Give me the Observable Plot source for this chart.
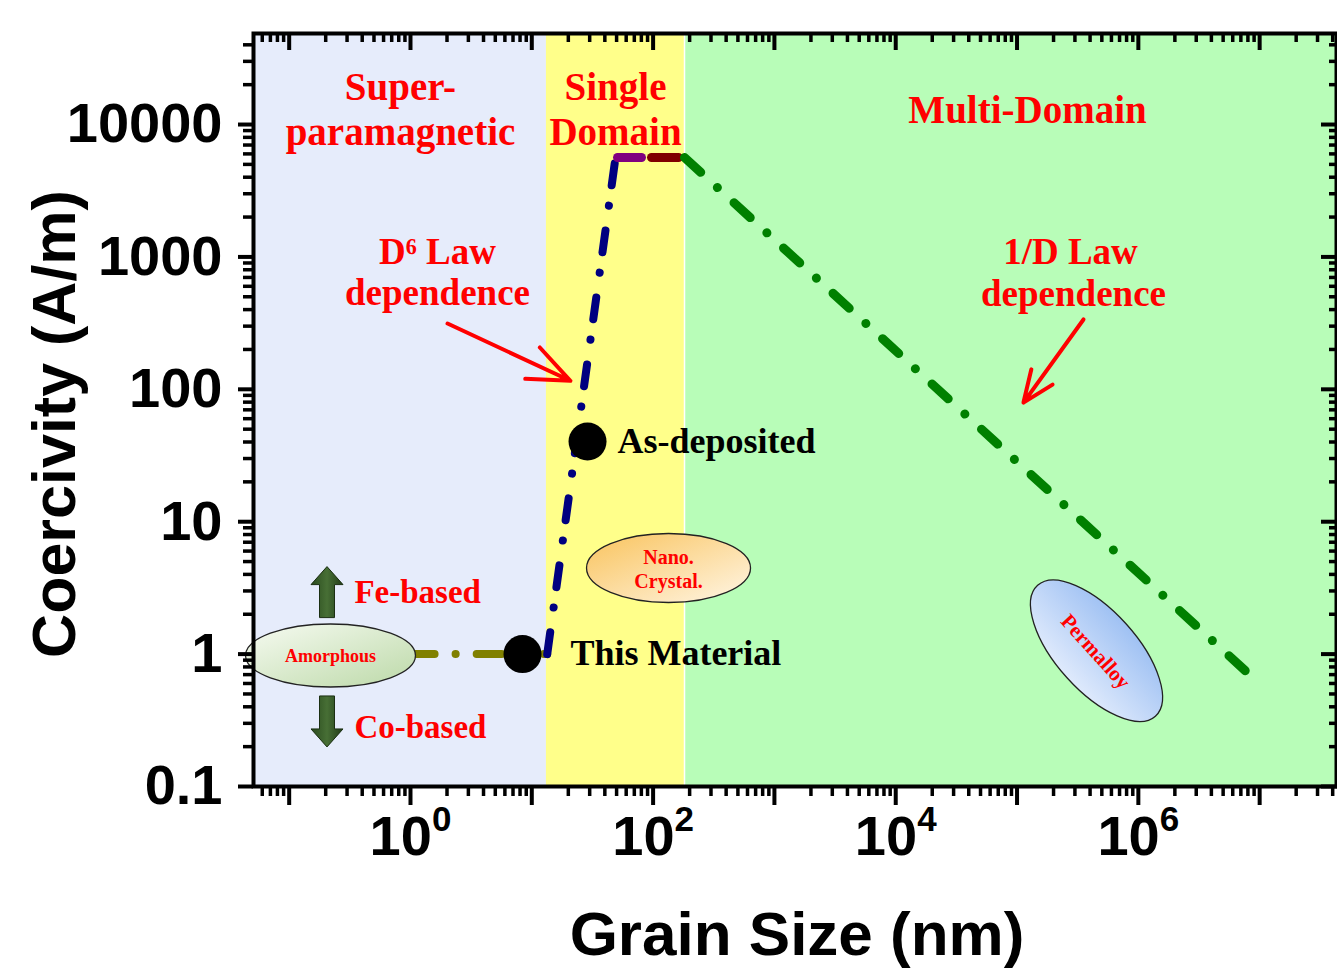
<!DOCTYPE html>
<html><head><meta charset="utf-8">
<script src="https://cdn.jsdelivr.net/npm/d3@7"></script>
<script src="https://cdn.jsdelivr.net/npm/@observablehq/plot@0.6"></script>
<style>html,body{margin:0;padding:0;background:#fff;overflow:hidden}#chart svg{display:block}</style>
</head><body><div id="chart"></div>
<script>
// ---- scale extents (nm, A/m) ----
const xDomain = [0.0508, 4.3e7];
const yDomain = [0.1, 48700];

// ---- background regions ----
const regionStart = [0.0508, 13.2, 181.5];
const regionEnd = [13.2, 181.5, 4.3e7];
const regionColors = ["#e6ecfb", "#ffff8a", "#b8fdb8"];

// ---- curves ----
const amorphLineX = [0.275, 13.4];
const amorphLineY = [1, 1];
const d6LineX = [13.4, 49];
const d6LineY = [1, 5640];
const purpleX = [50.9, 80.2];
const purpleY = [5640, 5640];
const maroonX = [97, 162];
const maroonY = [5640, 5640];
const invDLineX = [181.5, 8.4e6];
const invDLineY = [5640, 0.69];

// ---- highlighted points ----
const pointNames = ["This Material", "As-deposited"];
const pointX = [8.38, 28.8];
const pointY = [1, 40.3];
const pointLabelX = [20.8, 50.9];
const pointLabelY = [1.01, 40.3];

// ---- material class ellipses ----
const ellipseNames = ["Amorphous", "Nano.\nCrystal.", "Permalloy"];
const ellipseX = [0.219, 134, 452000];
const ellipseY = [0.976, 4.47, 1.06];

// ---- region / law annotations ----
const titleText = ["Super-", "paramagnetic", "Single", "Domain", "Multi-Domain"];
const titleX = [0.827, 0.827, 49, 49, 122000];
const titleY = [19000, 8700, 19000, 8700, 12760];
const lawText = ["D\u2076 Law", "dependence", "1/D Law", "dependence"];
const lawX = [1.67, 1.67, 276000, 292000];
const lawY = [1079, 530, 1079, 520];
const arrowX1 = [2.02, 353000];
const arrowY1 = [314, 337];
const arrowX2 = [20.8, 113000];
const arrowY2 = [116, 79.4];

// ---- Fe / Co arrows ----
const baseText = ["Fe-based", "Co-based"];
const baseTextX = [0.345, 0.345];
const baseTextY = [2.92, 0.279];
const baseArrowX = [0.205, 0.205];
const baseArrowY = [2.94, 0.31];
const baseArrowDir = ["up", "down"];

// ---- ticks ----
const xMajorTicks = [0.1, 1, 10, 100, 1e3, 1e4, 1e5, 1e6, 1e7];
const xLabelTicks = [1, 100, 1e4, 1e6];
const xTickLabels = ["10^0", "10^2", "10^4", "10^6"];
const yMajorTicks = [0.1, 1, 10, 100, 1000, 10000];
const yTickLabels = ["0.1", "1", "10", "100", "1000", "10000"];
const mantissas = [2, 3, 4, 5, 6, 7, 8, 9];
const xMinor = [];
for (let e = -2; e <= 7; e++) for (const m of mantissas) { const v = m * Math.pow(10, e); if (v > xDomain[0] && v < xDomain[1]) xMinor.push(v); }
const yMinor = [];
for (let e = -1; e <= 4; e++) for (const m of mantissas) { const v = m * Math.pow(10, e); if (v > yDomain[0] && v < yDomain[1]) yMinor.push(v); }

// ---- helpers ----
const idx = (a) => a.map((_, i) => i);
function ellipseSymbol(rx, ry) {
  return {draw(ctx) {
    const k = 0.5522847498;
    ctx.moveTo(rx, 0);
    ctx.bezierCurveTo(rx, ry * k, rx * k, ry, 0, ry);
    ctx.bezierCurveTo(-rx * k, ry, -rx, ry * k, -rx, 0);
    ctx.bezierCurveTo(-rx, -ry * k, -rx * k, -ry, 0, -ry);
    ctx.bezierCurveTo(rx * k, -ry, rx, -ry * k, rx, 0);
    ctx.closePath();
  }};
}
function blockArrow(dir) {
  const s = dir === "up" ? 1 : -1;
  return {draw(ctx) {
    ctx.moveTo(0, -25.5 * s);
    ctx.lineTo(16, -7.5 * s);
    ctx.lineTo(7.5, -7.5 * s);
    ctx.lineTo(7.5, 25.5 * s);
    ctx.lineTo(-7.5, 25.5 * s);
    ctx.lineTo(-7.5, -7.5 * s);
    ctx.lineTo(-16, -7.5 * s);
    ctx.closePath();
  }};
}
const ellipseShapes = [ellipseSymbol(85, 31.5), ellipseSymbol(82, 34.5), ellipseSymbol(88, 40)];
const ellipseFills = ["url(#gAmor)", "url(#gNano)", "url(#gPerm)"];
const ellipseRot = [0, 0, 48];

const serif = "'Liberation Serif', 'Times New Roman', 'DejaVu Serif', serif";
const sans = "'Liberation Sans', Arial, Helvetica, sans-serif";
const red = "#ff0000";

const seg = (xs, ys) => xs.map((x, i) => ({x, y: ys[i]}));

const plot = Plot.plot({
  width: 1337,
  height: 973,
  marginLeft: 253,
  marginRight: 1,
  marginTop: 33,
  marginBottom: 187,
  style: {background: "transparent", color: "black"},
  x: {type: "log", domain: xDomain},
  y: {type: "log", domain: yDomain},
  marks: [
    Plot.rect(idx(regionStart), {x1: (i) => regionStart[i], x2: (i) => regionEnd[i], y1: yDomain[0], y2: yDomain[1], fill: (i) => regionColors[i], inset: 0}),
    Plot.ruleX([regionStart[2]], {stroke: "white", strokeWidth: 1.5}),
    // curves
    Plot.line(seg(amorphLineX, amorphLineY), {x: "x", y: "y", stroke: "#808000", strokeWidth: 8, strokeLinecap: "round", strokeDasharray: "25,21,0.1,21"}),
    Plot.line(seg(d6LineX, d6LineY), {x: "x", y: "y", stroke: "#000080", strokeWidth: 8, strokeLinecap: "round", strokeDasharray: "22,25,0.1,20.5"}),
    Plot.line(seg(purpleX, purpleY), {x: "x", y: "y", stroke: "#800080", strokeWidth: 9, strokeLinecap: "round"}),
    Plot.line(seg(maroonX, maroonY), {x: "x", y: "y", stroke: "#800000", strokeWidth: 9, strokeLinecap: "round"}),
    Plot.line(seg(invDLineX, invDLineY), {x: "x", y: "y", stroke: "#008000", strokeWidth: 9, strokeLinecap: "round", strokeDasharray: "22,22.5,0.1,22.5"}),
    // points
    Plot.dot(idx(pointX), {x: (i) => pointX[i], y: (i) => pointY[i], r: 19, fill: "black"}),
    Plot.text(idx(pointNames), {x: (i) => pointLabelX[i], y: (i) => pointLabelY[i], text: (i) => pointNames[i], textAnchor: "start", fontFamily: serif, fontWeight: "bold", fontSize: 36, fill: "black"}),
    // ellipses
    ...ellipseNames.map((name, i) => Plot.dot([i], {x: () => ellipseX[i], y: () => ellipseY[i], r: 10, symbol: ellipseShapes[i], fill: ellipseFills[i], stroke: "#222", strokeWidth: 1.3, rotate: ellipseRot[i]})),
    Plot.text(idx(ellipseNames), {x: (i) => ellipseX[i], y: (i) => ellipseY[i], text: (i) => ellipseNames[i], rotate: (i) => ellipseRot[i], fontFamily: serif, fontWeight: "bold", fontSize: (i) => [18, 20, 21][i], lineHeight: 1.2, fill: red}),
    // Fe / Co
    Plot.dot(idx(baseArrowX), {x: (i) => baseArrowX[i], y: (i) => baseArrowY[i], r: 10, symbol: blockArrow("up"), fill: "url(#gArrow)", stroke: "#1b2f12", strokeWidth: 1, filter: (i) => baseArrowDir[i] === "up"}),
    Plot.dot(idx(baseArrowX), {x: (i) => baseArrowX[i], y: (i) => baseArrowY[i], r: 10, symbol: blockArrow("down"), fill: "url(#gArrow)", stroke: "#1b2f12", strokeWidth: 1, filter: (i) => baseArrowDir[i] === "down"}),
    Plot.text(idx(baseText), {x: (i) => baseTextX[i], y: (i) => baseTextY[i], text: (i) => baseText[i], textAnchor: "start", fontFamily: serif, fontWeight: "bold", fontSize: 33, fill: red}),
    // region titles & laws
    Plot.text(idx(titleText), {x: (i) => titleX[i], y: (i) => titleY[i], text: (i) => titleText[i], fontFamily: serif, fontWeight: "bold", fontSize: 39, fill: red}),
    Plot.text(idx(lawText), {x: (i) => lawX[i], y: (i) => lawY[i], text: (i) => lawText[i], fontFamily: serif, fontWeight: "bold", fontSize: 37, fill: red}),
    Plot.arrow(idx(arrowX1), {x1: (i) => arrowX1[i], y1: (i) => arrowY1[i], x2: (i) => arrowX2[i], y2: (i) => arrowY2[i], stroke: red, strokeWidth: 4, headLength: 22, headAngle: 45}),
    // axes
    Plot.axisX(xMinor, {anchor: "bottom", tickSize: 10, strokeWidth: 3.5, fill: "none", label: null}),
    Plot.axisX(xMajorTicks, {anchor: "bottom", tickSize: 19, strokeWidth: 4, fill: "none", label: null}),
    Plot.axisX(xLabelTicks, {anchor: "bottom", tickSize: 0, tickPadding: 29, tickFormat: (d) => xTickLabels[xLabelTicks.indexOf(d)], fontSize: 56, fontWeight: "bold", fontFamily: sans, label: null}),
    Plot.axisX(xMinor, {anchor: "top", tickSize: -8, strokeWidth: 3.5, fill: "none", label: null}),
    Plot.axisX(xMajorTicks, {anchor: "top", tickSize: -16, strokeWidth: 4, fill: "none", label: null}),
    Plot.axisY(yMinor, {anchor: "left", tickSize: 10, strokeWidth: 3.5, fill: "none", label: null}),
    Plot.axisY(yMajorTicks, {anchor: "left", tickSize: 15, strokeWidth: 4, fill: "none", label: null}),
    Plot.axisY(yMajorTicks, {anchor: "left", tickSize: 0, tickPadding: 31, tickFormat: (d) => yTickLabels[yMajorTicks.indexOf(d)], fontSize: 56, fontWeight: "bold", fontFamily: sans, label: null}),
    Plot.axisY(yMinor, {anchor: "right", tickSize: -8, strokeWidth: 3.5, fill: "none", label: null}),
    Plot.axisY(yMajorTicks, {anchor: "right", tickSize: -16, strokeWidth: 4, fill: "none", label: null}),
    Plot.frame({stroke: "black", strokeWidth: 4}),
    // axis titles
    Plot.text(["Coercivity (A/m)"], {frameAnchor: "left", textAnchor: "middle", lineAnchor: "middle", dx: -198, dy: 14, rotate: -90, fontFamily: sans, fontWeight: "bold", fontSize: 61, fill: "black"}),
    Plot.text(["Grain Size (nm)"], {frameAnchor: "bottom", textAnchor: "middle", lineAnchor: "middle", dx: 2, dy: 149, fontFamily: sans, fontWeight: "bold", fontSize: 62, fill: "black"})
  ]
});

const ns = "http://www.w3.org/2000/svg";
// superscript exponents on the x tick labels
plot.querySelectorAll('g[aria-label="x-axis tick label"] text').forEach((t) => {
  const parts = t.textContent.split("^");
  if (parts.length !== 2) return;
  t.textContent = parts[0];
  const ts = document.createElementNS(ns, "tspan");
  ts.setAttribute("dy", "-24");
  ts.setAttribute("font-size", "35");
  ts.textContent = parts[1];
  t.appendChild(ts);
});
const defs = document.createElementNS(ns, "defs");
defs.innerHTML = `
<linearGradient id="gAmor" x1="0" y1="0" x2="1" y2="1">
  <stop offset="0" stop-color="#f7fbf2"/><stop offset="1" stop-color="#bcd9a8"/>
</linearGradient>
<linearGradient id="gNano" x1="0" y1="0" x2="1" y2="1">
  <stop offset="0" stop-color="#f9c35c"/><stop offset="1" stop-color="#fff6e6"/>
</linearGradient>
<linearGradient id="gPerm" x1="0" y1="0" x2="0" y2="1">
  <stop offset="0" stop-color="#9fc1f3"/><stop offset="1" stop-color="#dfeafc"/>
</linearGradient>
<linearGradient id="gArrow" x1="0" y1="0" x2="1" y2="0">
  <stop offset="0" stop-color="#2a4a1e"/><stop offset="0.5" stop-color="#476f35"/><stop offset="1" stop-color="#223c18"/>
</linearGradient>`;
plot.insertBefore(defs, plot.firstChild);
document.getElementById("chart").appendChild(plot);
</script>
</body></html>
